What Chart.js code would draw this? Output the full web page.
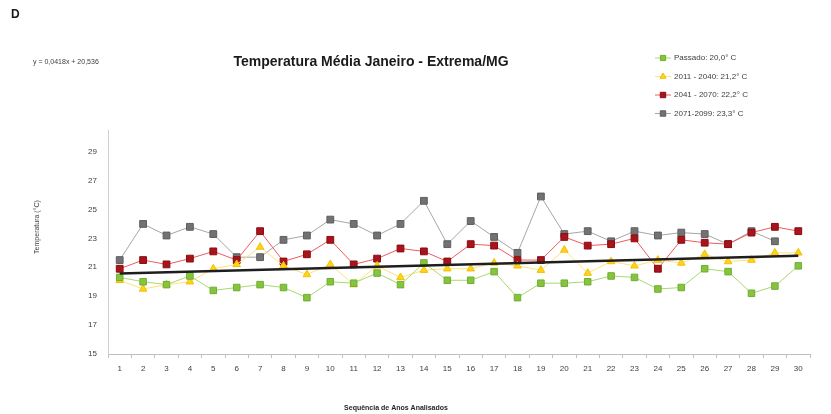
<!DOCTYPE html>
<html>
<head>
<meta charset="utf-8">
<script src="https://cdn.jsdelivr.net/npm/chart.js@4/dist/chart.umd.min.js"></script>
<style>
  html, body { margin: 0; padding: 0; background: #fff; }
  #wrap { width: 831px; height: 414px; }
</style>
</head>
<body>
<div id="wrap"><canvas id="tempChart" width="831" height="414"></canvas></div>
<script>
// Sequência de anos (1..30)
const anos = ['1','2','3','4','5','6','7','8','9','10','11','12','13','14','15',
              '16','17','18','19','20','21','22','23','24','25','26','27','28','29','30'];

// temperatura média de janeiro (°C) por período
const passado = [20.3, 20.0, 19.8, 20.4, 19.4, 19.6, 19.8, 19.6, 18.9, 20.0, 19.9, 20.6, 19.8, 21.3, 20.1,
                 20.1, 20.7, 18.9, 19.9, 19.9, 20.0, 20.4, 20.3, 19.5, 19.6, 20.9, 20.7, 19.2, 19.7, 21.1];
const p2011 = [20.1, 19.5, 19.8, 20.0, 20.9, 21.2, 22.4, 21.1, 20.5, 21.2, 19.8, 21.1, 20.3, 20.8, 20.9,
               20.9, 21.3, 21.1, 20.8, 22.2, 20.6, 21.4, 21.1, 21.5, 21.3, 21.9, 21.4, 21.5, 22.0, 22.0];
const p2041 = [20.9, 21.5, 21.2, 21.6, 22.1, 21.5, 23.5, 21.4, 21.9, 22.9, 21.2, 21.6, 22.3, 22.1, 21.4,
               22.6, 22.5, 21.5, 21.5, 23.1, 22.5, 22.6, 23.0, 20.9, 22.9, 22.7, 22.6, 23.4, 23.8, 23.5];
const p2071 = [21.5, 24.0, 23.2, 23.8, 23.3, 21.7, 21.7, 22.9, 23.2, 24.3, 24.0, 23.2, 24.0, 25.6, 22.6,
               24.2, 23.1, 22.0, 25.9, 23.3, 23.5, 22.8, 23.5, 23.2, 23.4, 23.3, 22.6, 23.5, 22.8];

// linha de tendência y = 0,0418x + 20,536 (valores em x = 1 e x = 30)
const tendencia = [20.578, 21.790];

const legendas = ['Passado: 20,0° C', '2011 - 2040: 21,2° C', '2041 - 2070: 22,2° C', '2071-2099: 23,3° C'];
const yTicks = [15, 17, 19, 21, 23, 25, 27, 29];

const titulo = 'Temperatura Média Janeiro - Extrema/MG';
const equacao = 'y = 0,0418x + 20,536';

const FONT = '"Liberation Sans", Arial, sans-serif';

// tendência só nos extremos; o resto fica vazio e spanGaps liga os dois
const tendData = anos.map(() => null);
tendData[0] = tendencia[0];
tendData[anos.length - 1] = tendencia[1];

function serie(label, data, line, fill, border, style, radius) {
  return {
    label: label,
    data: data,
    borderColor: line,
    borderWidth: 1,
    backgroundColor: fill,
    pointBackgroundColor: fill,
    pointBorderColor: border,
    pointBorderWidth: 1,
    pointStyle: style,
    pointRadius: radius,
    tension: 0
  };
}

const datasets = [
  {
    label: '',
    data: tendData,
    borderColor: '#1e1e1e',
    borderWidth: 2.5,
    pointRadius: 0,
    spanGaps: true
  },
  serie(legendas[0], passado, '#a9d86e', '#86c440', '#6fae2e', 'rect', 4.6),
  serie(legendas[1], p2011, '#ffe27a', '#ffd21f', '#f0c000', 'triangle', 4.4),
  serie(legendas[2], p2041, '#ef5a5f', '#a8141b', '#8a0d12', 'rect', 4.8),
  serie(legendas[3], p2071, '#a6a6a6', '#727272', '#5e5e5e', 'rect', 4.8)
];

// textos soltos: letra do painel, título, equação, títulos dos eixos e legenda
const textos = {
  id: 'textos',
  afterDraw(chart) {
    const ctx = chart.ctx;
    ctx.save();
    ctx.textBaseline = 'middle';

    ctx.fillStyle = '#1a1a1a';
    ctx.font = 'bold 12px ' + FONT;
    ctx.textAlign = 'left';
    ctx.fillText('D', 11, 15);

    ctx.font = 'bold 14px ' + FONT;
    ctx.textAlign = 'center';
    ctx.fillText(titulo, 371, 62);

    ctx.fillStyle = '#404040';
    ctx.font = '7px ' + FONT;
    ctx.textAlign = 'left';
    ctx.fillText(equacao, 33, 62);

    ctx.save();
    ctx.translate(37, 227);
    ctx.rotate(-Math.PI / 2);
    ctx.textAlign = 'center';
    ctx.fillText('Temperatura (°C)', 0, 0);
    ctx.restore();

    ctx.fillStyle = '#262626';
    ctx.font = 'bold 7px ' + FONT;
    ctx.textAlign = 'center';
    ctx.fillText('Sequência de Anos Analisados', 396, 408);

    // legenda
    ctx.font = '8px ' + FONT;
    ctx.textAlign = 'left';
    chart.data.datasets.slice(1).forEach((ds, i) => {
      const y = 58 + i * 18.5;
      ctx.strokeStyle = ds.borderColor;
      ctx.lineWidth = 1;
      ctx.beginPath();
      ctx.moveTo(655, y);
      ctx.lineTo(671, y);
      ctx.stroke();
      ctx.fillStyle = ds.pointBackgroundColor;
      ctx.strokeStyle = ds.pointBorderColor;
      Chart.helpers.drawPoint(ctx, {
        pointStyle: ds.pointStyle, radius: ds.pointRadius * 0.8, rotation: 0, borderWidth: 1
      }, 663, y);
      ctx.fillStyle = '#404040';
      ctx.fillText(ds.label, 674, y);
    });
    ctx.restore();
  }
};

new Chart(document.getElementById('tempChart'), {
  type: 'line',
  data: { labels: anos, datasets: datasets },
  plugins: [textos],
  options: {
    responsive: false,
    animation: false,
    devicePixelRatio: 1,
    layout: { padding: { left: 0, top: 130, right: 21, bottom: 0 } },
    plugins: {
      legend: { display: false },
      title: { display: false },
      tooltip: { enabled: false }
    },
    scales: {
      x: {
        offset: true,
        afterFit: (s) => { s.height = 60; },
        grid: {
          offset: true,
          drawOnChartArea: false,
          tickLength: 4,
          color: '#bfbfbf'
        },
        border: { color: '#bfbfbf', width: 1 },
        ticks: {
          color: '#404040',
          font: { family: FONT, size: 8 },
          padding: 6,
          maxRotation: 0,
          autoSkip: false
        }
      },
      y: {
        min: 15,
        max: 30.5,
        afterFit: (s) => { s.width = 108; },
        afterBuildTicks: (s) => { s.ticks = yTicks.map(v => ({ value: v })); },
        grid: { display: false },
        border: { color: '#d0d0d0', width: 1 },
        ticks: {
          color: '#404040',
          font: { family: FONT, size: 8 },
          padding: 3
        }
      }
    }
  }
});
</script>
</body>
</html>
